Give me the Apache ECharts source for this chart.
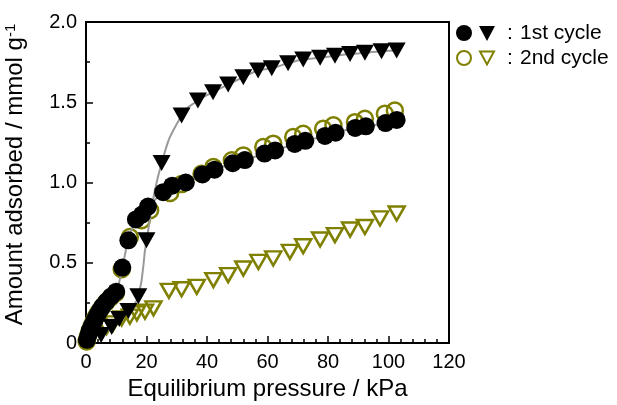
<!DOCTYPE html>
<html>
<head>
<meta charset="utf-8">
<script src="https://cdn.jsdelivr.net/npm/echarts@6/dist/echarts.min.js"></script>
<style>
  html, body { margin: 0; padding: 0; background: #fff; }
  #chart { width: 617px; height: 405px; }
</style>
</head>
<body>
<div id="chart"></div>
<script>
// 数据：压力 (kPa) / 吸附量 (mmol g-1)
const xTicks = [0, 20, 40, 60, 80, 100, 120];
const yTicks = [0, 0.5, 1.0, 1.5, 2.0];

// 1st cycle, adsorption (filled circles)
const cycle1Ads = [
  [0.3, 0.02], [0.8, 0.05], [1.3, 0.08], [2.0, 0.11], [2.8, 0.14], [3.6, 0.17],
  [4.5, 0.20], [5.5, 0.23], [6.8, 0.26], [8.3, 0.29], [10.0, 0.32], [12.0, 0.47],
  [14.0, 0.64], [16.5, 0.77], [18.5, 0.80], [20.5, 0.85], [25.5, 0.94], [28.5, 0.98],
  [33.0, 1.00], [38.5, 1.05], [42.5, 1.08], [48.5, 1.12], [52.5, 1.14], [59.0, 1.18],
  [62.5, 1.20], [69.0, 1.24], [72.5, 1.26], [79.0, 1.29], [82.5, 1.31], [89.0, 1.34],
  [92.5, 1.35], [99.0, 1.37], [102.7, 1.39]
];
// 1st cycle, desorption (filled down triangles)
const cycle1Des = [
  [102.7, 1.822], [97.7, 1.818], [92.2, 1.808], [87.3, 1.800], [82.3, 1.789],
  [77.4, 1.777], [71.8, 1.766], [66.8, 1.743], [61.4, 1.712], [56.9, 1.698],
  [52.0, 1.656], [47.0, 1.611], [42.0, 1.563], [37.0, 1.511], [31.6, 1.418],
  [25.0, 1.121], [20.0, 0.640], [17.3, 0.292], [14.0, 0.20], [11.0, 0.15],
  [8.5, 0.10], [5.0, 0.05]
];
// 2nd cycle, adsorption (open circles)
const cycle2Ads = [
  [0.2, 0.01], [0.6, 0.04], [1.1, 0.07], [1.7, 0.10], [2.4, 0.13], [3.2, 0.16],
  [4.1, 0.19], [5.2, 0.22], [6.5, 0.25], [8.0, 0.28], [9.8, 0.31], [11.8, 0.46],
  [14.5, 0.66], [18.4, 0.765], [21.2, 0.827], [27.8, 0.935], [31.6, 0.99],
  [38.2, 1.055], [42.1, 1.096], [48.2, 1.138], [52.0, 1.169], [58.6, 1.221],
  [61.9, 1.242], [68.5, 1.283], [71.8, 1.304], [78.4, 1.335], [81.8, 1.356],
  [88.9, 1.376], [92.2, 1.397], [98.8, 1.428], [102.1, 1.449]
];
// 2nd cycle, desorption (open down triangles)
const cycle2Des = [
  [102.7, 0.807], [97.2, 0.776], [92.2, 0.723], [87.3, 0.707], [82.3, 0.672],
  [77.4, 0.645], [71.8, 0.603], [67.4, 0.568], [61.9, 0.527], [57.0, 0.505],
  [52.0, 0.464], [47.0, 0.423], [42.1, 0.392], [36.6, 0.350], [31.6, 0.335],
  [27.4, 0.325], [22.3, 0.216], [19.5, 0.195], [16.8, 0.185], [14.5, 0.164],
  [11.8, 0.153], [9.0, 0.122], [6.8, 0.10]
];

const OLIVE = "#808000";
const chart = echarts.init(document.getElementById("chart"));

const axisFont = { fontFamily: "Liberation Sans", color: "#000" };

chart.setOption({
  backgroundColor: "#fff",
  animation: false,
  grid: {
    left: 86, right: 168, top: 22, bottom: 62,
    outerBoundsMode: "none", containLabel: false,
    show: true, borderColor: "#000", borderWidth: 2
  },
  xAxis: {
    type: "value",
    min: xTicks[0], max: xTicks[xTicks.length - 1], interval: 20,
    name: "Equilibrium pressure / kPa",
    nameLocation: "middle", nameGap: 34,
    nameTextStyle: { ...axisFont, fontSize: 24 },
    axisLine: { lineStyle: { color: "#000", width: 2 } },
    axisTick: { inside: true, length: 7, lineStyle: { color: "#000", width: 1.5 } },
    minorTick: { show: true, splitNumber: 5, length: 4, lineStyle: { color: "#000", width: 1.5 } },
    axisLabel: { ...axisFont, fontSize: 20, margin: 9 },
    splitLine: { show: false }
  },
  yAxis: {
    type: "value",
    min: yTicks[0], max: yTicks[yTicks.length - 1], interval: 0.5,
    name: "Amount adsorbed / mmol g{sup|-1}",
    nameLocation: "middle", nameGap: 58, nameRotate: 90,
    nameTextStyle: {
      ...axisFont, fontSize: 24, padding: [0, 0, 0, 16],
      rich: { sup: { ...axisFont, fontSize: 15, verticalAlign: "top", padding: [0, 0, 10, 0] } }
    },
    axisLine: { lineStyle: { color: "#000", width: 2 } },
    axisTick: { inside: true, length: 7, lineStyle: { color: "#000", width: 1.5 } },
    minorTick: { show: true, splitNumber: 2, length: 4, lineStyle: { color: "#000", width: 1.5 } },
    axisLabel: {
      ...axisFont, fontSize: 20, margin: 9,
      formatter: v => (v === 0 ? "0" : v.toFixed(1))
    },
    splitLine: { show: false }
  },
  // 图例：手工绘制（一行两个符号）
  graphic: [
    { type: "circle", shape: { cx: 464, cy: 33, r: 8 }, style: { fill: "#000" } },
    { type: "polygon", shape: { points: [[479, 26], [495, 26], [487, 41]] }, style: { fill: "#000" } },
    { type: "text", x: 507, y: 33, style: { text: ":", font: "21px Liberation Sans", fill: "#000", verticalAlign: "middle" } },
    { type: "text", x: 520, y: 33, style: { text: "1st cycle", font: "21px Liberation Sans", fill: "#000", verticalAlign: "middle" } },
    { type: "circle", shape: { cx: 464, cy: 58, r: 7 }, style: { fill: "none", stroke: OLIVE, lineWidth: 2 } },
    { type: "polygon", shape: { points: [[480, 51.5], [494, 51.5], [487, 64.5]] }, style: { fill: "none", stroke: OLIVE, lineWidth: 2 } },
    { type: "text", x: 507, y: 58, style: { text: ":", font: "21px Liberation Sans", fill: "#000", verticalAlign: "middle" } },
    { type: "text", x: 520, y: 58, style: { text: "2nd cycle", font: "21px Liberation Sans", fill: "#000", verticalAlign: "middle" } }
  ],
  series: [
    {
      name: "1st cycle ads", type: "line", data: cycle1Ads, smooth: true,
      symbol: "circle", symbolSize: 18,
      lineStyle: { color: "#999", width: 2 },
      itemStyle: { color: "#000", borderWidth: 0 }
    },
    {
      name: "1st cycle des", type: "line", data: cycle1Des, smooth: true,
      symbol: "triangle", symbolRotate: 180, symbolSize: [18, 16],
      lineStyle: { color: "#999", width: 2 },
      itemStyle: { color: "#000", borderWidth: 0 }
    },
    {
      name: "2nd cycle ads", type: "scatter", data: cycle2Ads,
      symbol: "circle", symbolSize: 16,
      itemStyle: { color: "rgba(0,0,0,0)", borderColor: OLIVE, borderWidth: 2.5, opacity: 1 }
    },
    {
      name: "2nd cycle des", type: "scatter", data: cycle2Des,
      symbol: "triangle", symbolRotate: 180, symbolSize: [16, 14],
      itemStyle: { color: "rgba(0,0,0,0)", borderColor: OLIVE, borderWidth: 2.5, opacity: 1 }
    }
  ]
});
</script>
</body>
</html>
